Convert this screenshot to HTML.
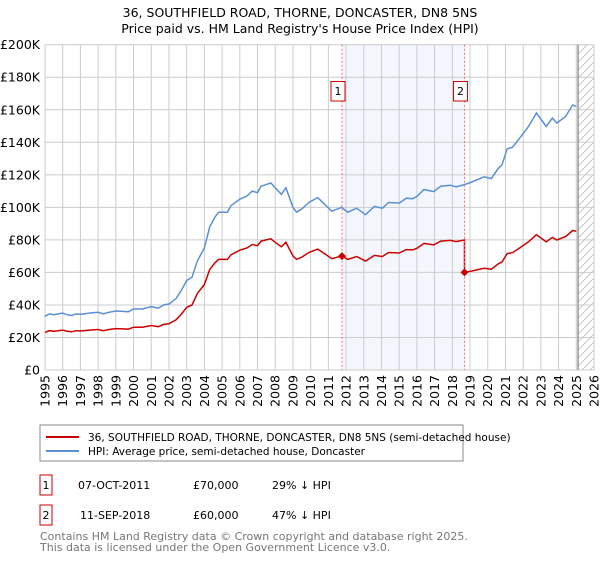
<!DOCTYPE html>
<html><head><meta charset="utf-8"><style>
body{margin:0;background:#fff;width:600px;height:560px;overflow:hidden;font-family:"Liberation Sans","DejaVu Sans",sans-serif}
svg text{font-family:"DejaVu Sans","Liberation Sans",sans-serif}
</style></head><body>
<svg id="chart" width="600" height="560" xmlns="http://www.w3.org/2000/svg">
<text x="300" y="17" text-anchor="middle" font-size="12.5" fill="#000">36, SOUTHFIELD ROAD, THORNE, DONCASTER, DN8 5NS</text>
<text x="300" y="33" text-anchor="middle" font-size="12.5" fill="#000">Price paid vs. HM Land Registry's House Price Index (HPI)</text>
<g id="grid"></g><g id="marks"></g><g id="axes"></g>
<rect x="40" y="425" width="423" height="36" fill="#fff" stroke="#888"/>
<line x1="46" y1="437" x2="79" y2="437" stroke="#cc0000" stroke-width="2"/>
<text x="88" y="441" font-size="10.5">36, SOUTHFIELD ROAD, THORNE, DONCASTER, DN8 5NS (semi-detached house)</text>
<line x1="46" y1="451" x2="79" y2="451" stroke="#5b8fd4" stroke-width="2"/>
<text x="88" y="455" font-size="10.5">HPI: Average price, semi-detached house, Doncaster</text>
<rect x="40" y="475" width="12" height="20" fill="#fff" stroke="#cc0000"/>
<text x="46" y="489" font-size="11" text-anchor="middle">1</text>
<text x="78" y="489" font-size="11">07-OCT-2011</text>
<text x="193" y="489" font-size="11">£70,000</text>
<text x="272" y="489" font-size="11">29% ↓ HPI</text>
<rect x="40" y="505" width="12" height="20" fill="#fff" stroke="#cc0000"/>
<text x="46" y="519" font-size="11" text-anchor="middle">2</text>
<text x="80" y="519" font-size="11">11-SEP-2018</text>
<text x="193" y="519" font-size="11">£60,000</text>
<text x="272" y="519" font-size="11">47% ↓ HPI</text>
<text x="40" y="540" font-size="11" fill="#777">Contains HM Land Registry data © Crown copyright and database right 2025.</text>
<text x="40" y="551" font-size="11" fill="#777">This data is licensed under the Open Government Licence v3.0.</text>
</svg>
<script>
const hpiYears=[1995,1995.25,1995.5,1995.75,1996,1996.25,1996.5,1996.75,1997,1997.5,1998,1998.3,1998.6,1999,1999.4,1999.7,2000,2000.5,2001,2001.4,2001.7,2002,2002.4,2002.7,2003,2003.3,2003.6,2004,2004.3,2004.6,2004.8,2005.3,2005.5,2006,2006.4,2006.7,2007,2007.2,2007.75,2008,2008.35,2008.6,2009,2009.2,2009.5,2009.9,2010.4,2011.2,2011.75,2012.1,2012.6,2013.1,2013.6,2014.05,2014.4,2015,2015.4,2015.75,2016,2016.4,2016.95,2017.35,2017.9,2018.2,2018.69,2019.1,2019.8,2020.2,2020.6,2020.8,2021.1,2021.4,2021.8,2022.3,2022.75,2023.3,2023.65,2023.9,2024.4,2024.8,2025.0];
const hpiValues=[33,34.5,34,34.5,35,34,33.5,34.5,34.2,35,35.5,34.5,35.5,36.3,36,35.8,37.5,37.5,39,38,40,40.5,44,49,55,57,67,75,88,94,97,97,101,105,107,110,109,113,115,112,108,112,100,97,99,103,106,97.6,100,97,99.5,95.5,100.5,99.5,103,102.6,105.6,105.3,106.7,111,109.7,113,113.6,112.6,114,115.6,118.8,117.7,124,126,136,137,142.5,149.7,158,149.7,154.9,151.8,155.9,163,162];
const saleDates=[2011.77,2018.69];
const salePrices=[70,60];
const yTicks=[0,20,40,60,80,100,120,140,160,180,200];
const yTickLabels=["£0","£20K","£40K","£60K","£80K","£100K","£120K","£140K","£160K","£180K","£200K"];
const xTicks=[1995,1996,1997,1998,1999,2000,2001,2002,2003,2004,2005,2006,2007,2008,2009,2010,2011,2012,2013,2014,2015,2016,2017,2018,2019,2020,2021,2022,2023,2024,2025,2026];
const dataEnd=2025.1;
const X0=45,X1=594,Y0=370,Y1=44.7,XMIN=1995,XMAX=2026,YMAX=200;
const sx=v=>X0+(v-XMIN)/(XMAX-XMIN)*(X1-X0);
const sy=v=>Y0-v/YMAX*(Y0-Y1);
const NS="http://www.w3.org/2000/svg";
function mk(parent,tag,attrs){const e=document.createElementNS(NS,tag);for(const k in attrs)e.setAttribute(k,attrs[k]);document.getElementById(parent).appendChild(e);return e;}
function hpiAt(t){for(let i=0;i<hpiYears.length-1;i++){if(t>=hpiYears[i]&&t<=hpiYears[i+1]){const f=(t-hpiYears[i])/(hpiYears[i+1]-hpiYears[i]);return hpiValues[i]+f*(hpiValues[i+1]-hpiValues[i]);}}return hpiValues[hpiValues.length-1];}
let sh=mk('grid','rect',{x:sx(saleDates[0]),y:Y1,width:sx(saleDates[1])-sx(saleDates[0]),height:Y0-Y1,fill:'#eef3fc',opacity:0.7});


const defs=mk('grid','defs',{});
const pat=document.createElementNS(NS,'pattern');pat.setAttribute('id','hatch');pat.setAttribute('width','8');pat.setAttribute('height','8');pat.setAttribute('patternUnits','userSpaceOnUse');
const pl=document.createElementNS(NS,'path');pl.setAttribute('d','M0,8 L8,0');pl.setAttribute('stroke','#bbb');pl.setAttribute('stroke-width','0.8');pat.appendChild(pl);defs.appendChild(pat);
let hz=mk('grid','rect',{x:sx(dataEnd),y:Y1,width:X1-sx(dataEnd),height:Y0-Y1,fill:'url(#hatch)'});


yTicks.forEach((v,i)=>{
 let g=mk('grid','line',{x1:X0,x2:X1,y1:sy(v),y2:sy(v),stroke:'#ccc','stroke-width':1});
 
 
 let t=mk('axes','text',{x:X0-5,y:sy(v)+4.5,'text-anchor':'end','font-size':12.5,fill:'#000'});
 t.textContent=yTickLabels[i];
 
 
});
xTicks.forEach(v=>{
 let g=mk('grid','line',{x1:sx(v),x2:sx(v),y1:Y1,y2:Y0,stroke:'#ccc','stroke-width':1});
 
 
 let t=mk('axes','text',{x:0,y:0,'text-anchor':'end','font-size':12.5,fill:'#000',transform:`translate(${sx(v)+4.5},${Y0+5}) rotate(-90)`});
 t.textContent=v;
 
 
});
let el=mk('grid','line',{x1:sx(dataEnd),x2:sx(dataEnd),y1:Y1,y2:Y0,stroke:'#999','stroke-width':1.5});


let hp=hpiYears.map((t,i)=>(i?'L':'M')+sx(t).toFixed(1)+','+sy(hpiValues[i]).toFixed(1)).join(' ');
let hl=mk('marks','path',{d:hp,fill:'none',stroke:'#5b8fd4','stroke-width':1.5});


let pts=[];
hpiYears.forEach((t,i)=>{
 const idx=t<saleDates[1]?0:1;
 if(idx===1&&pts.length&&hpiYears[i-1]<saleDates[1]){
   pts.push([saleDates[1],salePrices[0]*hpiAt(saleDates[1])/hpiAt(saleDates[0])]);
   pts.push([saleDates[1],salePrices[1]]);
 }
 pts.push([t,salePrices[idx]*hpiValues[i]/hpiAt(saleDates[idx])]);
});
let pp=pts.map((p,i)=>(i?'L':'M')+sx(p[0]).toFixed(1)+','+sy(p[1]).toFixed(1)).join(' ');
let rl=mk('marks','path',{d:pp,fill:'none',stroke:'#cc0000','stroke-width':1.5});


saleDates.forEach((d,i)=>{
 let vl=mk('marks','line',{x1:sx(d),x2:sx(d),y1:Y1,y2:Y0,stroke:'#f07070','stroke-width':1,'stroke-dasharray':'2,2'});
 
 
 const cx=sx(d),cy=sy(salePrices[i]);
 let dm=mk('marks','path',{d:`M${cx-4},${cy} L${cx},${cy-4} L${cx+4},${cy} L${cx},${cy+4} Z`,fill:'#cc0000'});
 
 
 let b=mk('marks','rect',{x:cx-11,y:81.5,width:14,height:19.5,fill:'#fff',stroke:'#cc0000'});
 
 
 let bt=mk('marks','text',{x:cx-4,y:95,'text-anchor':'middle','font-size':11});
 bt.textContent=String(i+1);
 
 
});
</script>
</body></html>
